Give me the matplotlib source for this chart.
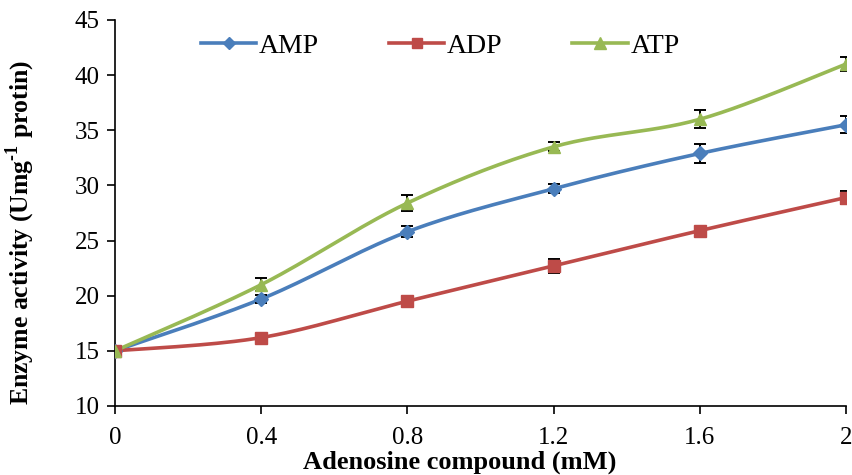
import matplotlib.pyplot as plt
import numpy as np

plt.rcParams['font.family'] = ['Liberation Serif', 'DejaVu Serif']
plt.rcParams['mathtext.fontset'] = 'custom'
plt.rcParams['mathtext.rm'] = 'Liberation Serif'
plt.rcParams['mathtext.bf'] = 'Liberation Serif:bold'

# concentrations (mM) and enzyme activity for each adenosine compound
conc = [0, 0.4, 0.8, 1.2, 1.6, 2]
amp = [15, 19.7, 25.8, 29.7, 32.9, 35.5]
adp = [15, 16.2, 19.5, 22.7, 25.9, 28.9]
atp = [15, 21.0, 28.4, 33.5, 36.0, 41.0]
amp_err = [0, 0.4, 0.5, 0.4, 0.85, 0.75]
adp_err = [0, 0.3, 0.2, 0.6, 0.3, 0.55]
atp_err = [0, 0.6, 0.7, 0.4, 0.8, 0.6]

series = [
    ("AMP", amp, amp_err, "#4A7EBB", "D", 7),
    ("ADP", adp, adp_err, "#BE4B48", "s", 8),
    ("ATP", atp, atp_err, "#98B954", "^", 9),
]


def smooth(x, y, n=30):
    # bezier curve through the points, like a spreadsheet "smoothed line"
    x = np.asarray(x, float)
    y = np.asarray(y, float)
    pts = np.column_stack([x, y])
    ext = np.vstack([pts[0], pts, pts[-1]])
    out = []
    t = np.linspace(0, 1, n)[:, None]
    for i in range(len(pts) - 1):
        p0, p1, p2, p3 = ext[i], ext[i + 1], ext[i + 2], ext[i + 3]
        c1 = p1 + (p2 - p0) / 6
        c2 = p2 - (p3 - p1) / 6
        seg = ((1 - t) ** 3) * p1 + 3 * ((1 - t) ** 2) * t * c1 + 3 * (1 - t) * t ** 2 * c2 + t ** 3 * p2
        out.append(seg if i == 0 else seg[1:])
    out = np.vstack(out)
    return out[:, 0], out[:, 1]


fig = plt.figure(figsize=(8.53, 4.75), dpi=100)
ax = fig.add_axes([0.1348, 0.1453, 0.857, 0.8126])

for name, vals, err, col, mk, ms in series:
    sx, sy = smooth(conc, vals)
    ax.plot(sx, sy, color=col, lw=2.6, zorder=2)
    ax.errorbar(conc[1:], vals[1:], yerr=err[1:], fmt="none", ecolor="black",
                elinewidth=1.4, capsize=4, capthick=1.4, zorder=3)
    ax.plot(conc, vals, ls="none", marker=mk, ms=ms, color=col, zorder=4)
    ax.plot([], [], color=col, lw=2.6, marker=mk, ms=ms - 1, label=name)

ax.set_xlim(0, 2)
ax.set_ylim(10, 45)
ax.set_xticks(conc)
ax.set_xticklabels(["0", "0.4", "0.8", "1.2", "1.6", "2"])
ax.set_yticks(range(10, 46, 5))
ax.tick_params(axis="both", labelsize=18, direction="out", length=6, width=1.2, colors="black")
ax.tick_params(axis="x", pad=9)
ax.tick_params(axis="y", pad=5)
for s in ["top", "right"]:
    ax.spines[s].set_visible(False)
for s in ["left", "bottom"]:
    ax.spines[s].set_linewidth(1.2)

ax.set_xlabel("Adenosine compound (mM)", fontsize=19, fontweight="bold")
ax.xaxis.set_label_coords(0.472, -0.115)
ax.set_ylabel("Enzyme activity (Umg$^{\\mathbf{\u2010 1}}$ protin)", fontsize=18.5, fontweight="bold")
ax.yaxis.set_label_coords(-0.106, 0.45)

ax.legend(loc="upper center", bbox_to_anchor=(0.445, 1.03), ncol=3, frameon=False,
          fontsize=20, handlelength=2.0, handletextpad=0.1, columnspacing=2.5)

fig.savefig("out.png", dpi=100)
